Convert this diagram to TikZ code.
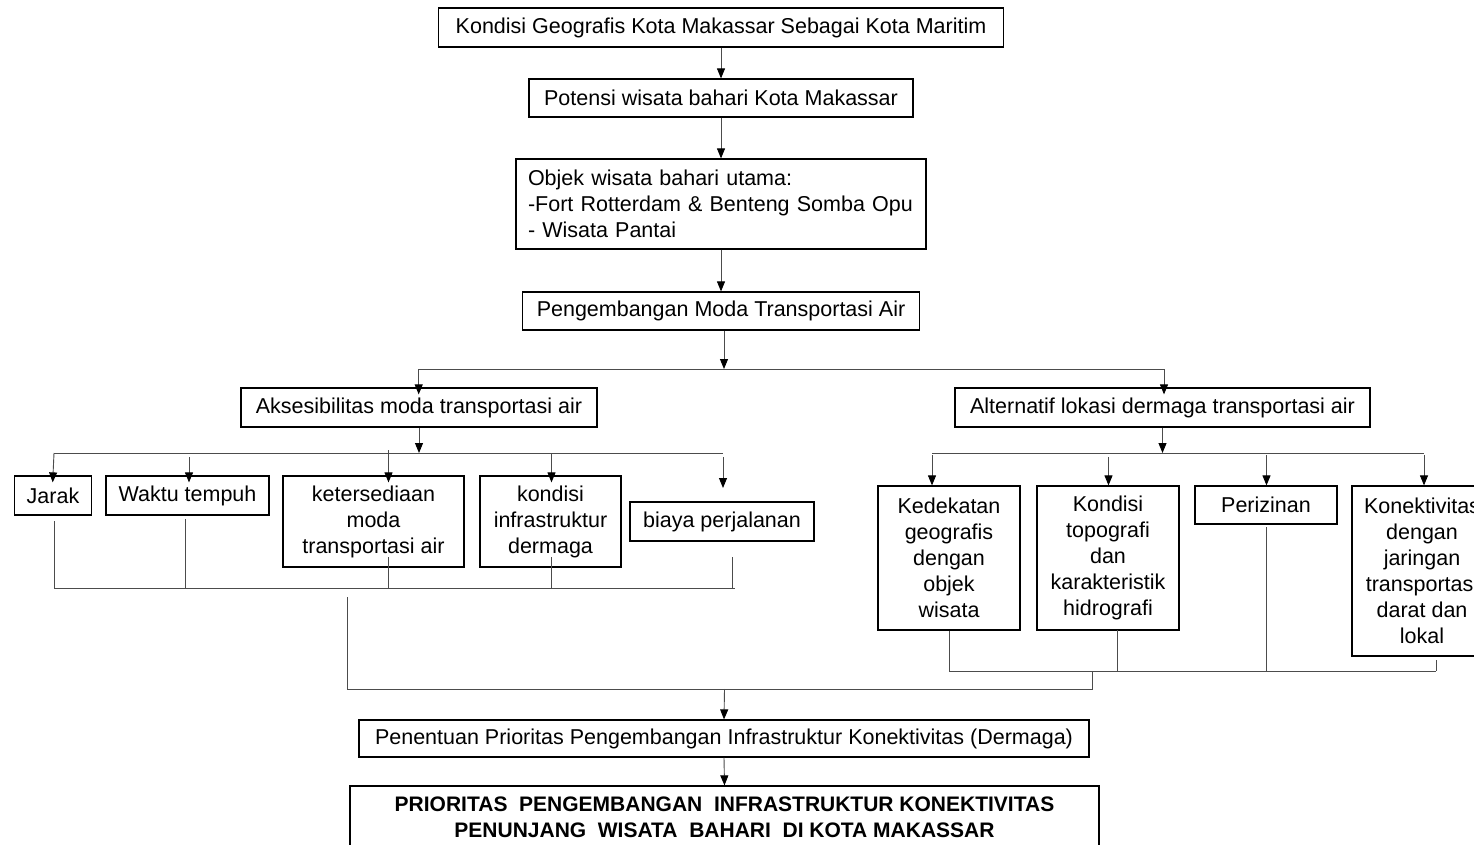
\documentclass[tikz,border=0pt]{standalone}
\usepackage{fontspec}
\setmainfont{Liberation Sans}
\usetikzlibrary{arrows.meta}
\begin{document}
\begin{tikzpicture}[x=1pt,y=-1pt,
 box/.style={draw=black,line width=1.2pt,inner sep=0pt,align=center,font=\fontsize{21.5}{26}\selectfont},
 conn/.style={draw=black!70,line width=0.9pt},
 arr/.style={conn,-{Triangle[length=10pt,width=8pt,color=black]}},
 into/.style={shorten >=-7pt}
]
\useasboundingbox[fill=white] (0,0) rectangle (1474,845);

% main chain
\node[box,minimum width=565pt,minimum height=39pt] (kondisi) at (721,27.5) {Kondisi Geografis Kota Makassar Sebagai Kota Maritim};
\node[box,minimum width=384pt,minimum height=38pt] (potensi) at (721,98) {Potensi wisata bahari Kota Makassar};
\node[box,minimum width=410pt,minimum height=90pt,align=left,text width=386pt,inner xsep=12pt] (objek) at (721,204) {Objek wisata bahari utama:\\-Fort Rotterdam \& Benteng Somba Opu\\- Wisata Pantai};
\node[box,minimum width=397pt,minimum height=38pt] (peng) at (721,311) {Pengembangan Moda Transportasi Air};

\node[box,minimum width=356pt,minimum height=39pt] (aks) at (419,407.5) {Aksesibilitas moda transportasi air};
\node[box,minimum width=415pt,minimum height=39pt] (alt) at (1162.5,407.5) {Alternatif lokasi dermaga transportasi air};

% left children
\node[box,minimum width=77pt,minimum height=39pt] (jarak) at (53,495.5) {Jarak};
\node[box,minimum width=163pt,minimum height=39pt] (waktu) at (187.5,495.5) {Waktu tempuh};
\node[box,minimum width=181pt,minimum height=91pt] (keter) at (373.5,521.5) {ketersediaan\\moda\\transportasi air};
\node[box,minimum width=141pt,minimum height=91pt] (kinf) at (550.5,521.5) {kondisi\\infrastruktur\\dermaga};
\node[box,minimum width=184pt,minimum height=39pt] (biaya) at (722,521.5) {biaya perjalanan};

% right children
\node[box,minimum width=142pt,minimum height=144pt] (dekat) at (949,558) {Kedekatan\\geografis\\dengan\\objek\\wisata};
\node[box,minimum width=142pt,minimum height=144pt] (topo) at (1108,558) {Kondisi\\topografi\\dan\\karakteristik\\hidrografi};
\node[box,minimum width=142pt,minimum height=38pt] (izin) at (1266,505) {Perizinan};
\node[box,minimum width=140pt,minimum height=170pt] (konek) at (1422,571) {Konektivitas\\dengan\\jaringan\\transportasi\\darat dan\\lokal};

% bottom
\node[box,minimum width=730pt,minimum height=37pt] (penentuan) at (724,738.5) {Penentuan Prioritas Pengembangan Infrastruktur Konektivitas (Dermaga)};
\node[box,minimum width=749pt,minimum height=62pt,font=\fontsize{21}{26}\selectfont\bfseries] (prior) at (724.5,817) {PRIORITAS\ \ PENGEMBANGAN\ \ INFRASTRUKTUR KONEKTIVITAS\\PENUNJANG\ \ WISATA\ \ BAHARI\ \ DI KOTA MAKASSAR};

% coordinates
\coordinate (b1) at (724,369);
\coordinate (b1L) at (418.7,369);
\coordinate (b1R) at (1164,369);
\coordinate (b2L) at (54,453);
\coordinate (b2R) at (723,453);
\coordinate (b3L) at (932,453);
\coordinate (b3R) at (1424,453);
\coordinate (wS) at (189,457);
\coordinate (kS) at (388.5,450);
\coordinate (iS) at (551.5,454);
\coordinate (bS) at (723,457);
\coordinate (bE) at (723,488);
\coordinate (c2) at (1108.5,457);
\coordinate (c3) at (1266.5,455);
\coordinate (c4) at (1424,455);
\coordinate (c1) at (932,455);
\coordinate (l1) at (54,521);
\coordinate (l2) at (185,519);
\coordinate (l3) at (388.5,557);
\coordinate (l4) at (551,557);
\coordinate (l5) at (732,557);
\coordinate (lbL) at (54,588);
\coordinate (lbR) at (735,588);
\coordinate (m1) at (347,597);
\coordinate (m2) at (347,689);
\coordinate (m3) at (1092,689);
\coordinate (m4) at (1092,671);
\coordinate (mA) at (724.5,689);
\coordinate (rbL) at (949,671);
\coordinate (rbR) at (1436,671);
\coordinate (r2) at (1117,630);
\coordinate (r3) at (1266,527);
\coordinate (r4) at (1436,660);

% main chain connectors
\draw[arr] (kondisi.south) -- (potensi.north);
\draw[arr] (potensi.south) -- (objek.north);
\draw[arr] (objek.south) -- (peng.north);
\draw[arr] (b1 |- peng.south) -- (b1);
\draw[conn] (b1L) -- (b1R);
\draw[arr,into] (b1L) -- (b1L |- aks.north);
\draw[arr,into] (b1R) -- (b1R |- alt.north);

% left branch
\draw[arr] (aks.south) -- (aks.south |- b2L);
\draw[conn] (b2L) -- (b2R);
\draw[arr,into] (b2L) -- (jarak.north);
\draw[arr,into] (wS) -- (wS |- waktu.north);
\draw[arr,into] (kS) -- (kS |- keter.north);
\draw[arr,into] (iS) -- (iS |- kinf.north);
\draw[arr] (bS) -- (bE);

\draw[conn] (l1) -- (l1 |- lbL);
\draw[conn] (l2) -- (l2 |- lbL);
\draw[conn] (l3) -- (l3 |- lbL);
\draw[conn] (l4) -- (l4 |- lbL);
\draw[conn] (l5) -- (l5 |- lbL);
\draw[conn] (lbL) -- (lbR);

% right branch
\draw[arr] (alt.south) -- (alt.south |- b3L);
\draw[conn] (b3L) -- (b3R);
\draw[arr] (c1) -- (c1 |- dekat.north);
\draw[arr] (c2) -- (c2 |- topo.north);
\draw[arr] (c3) -- (c3 |- izin.north);
\draw[arr] (c4) -- (c4 |- konek.north);

\draw[conn] (dekat.south) -- (dekat.south |- rbL);
\draw[conn] (r2) -- (r2 |- rbL);
\draw[conn] (r3) -- (r3 |- rbL);
\draw[conn] (r4) -- (r4 |- rbL);
\draw[conn] (rbL) -- (rbR);

% merge
\draw[conn] (m1) -- (m2) -- (m3) -- (m4);
\draw[arr] (mA) -- (penentuan.north);
\draw[arr] (penentuan.south) -- (prior.north);
\end{tikzpicture}
\end{document}
